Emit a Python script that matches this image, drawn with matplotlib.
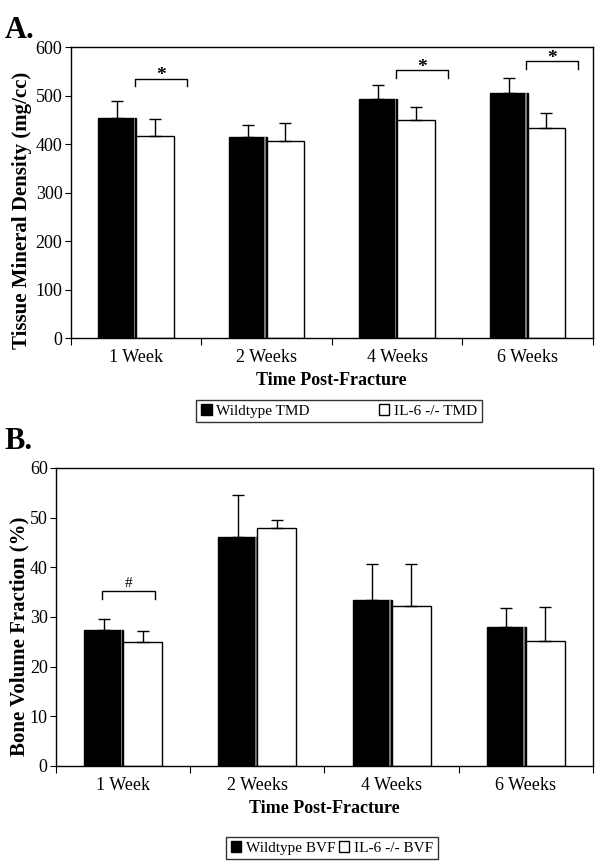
import numpy as np
import matplotlib.pyplot as plt
from matplotlib.patches import Patch

plt.rcParams['font.family'] = ['Liberation Serif', 'DejaVu Serif']

weeks = ['1 Week', '2 Weeks', '4 Weeks', '6 Weeks']

# Panel A: tissue mineral density (mg/cc)
tmd_wt = [453, 415, 493, 505]
tmd_wt_err = [35, 25, 28, 31]
tmd_ko = [417, 406, 450, 433]
tmd_ko_err = [35, 38, 27, 32]
tmd_sig = [0, 2, 3]          # groups marked with *
tmd_sig_y = [535, 553, 571]

# Panel B: bone volume fraction (%)
bvf_wt = [27.4, 46.2, 33.5, 28.0]
bvf_wt_err = [2.1, 8.3, 7.2, 3.8]
bvf_ko = [24.9, 47.9, 32.2, 25.1]
bvf_ko_err = [2.2, 1.7, 8.4, 7.0]
bvf_sig = [0]                # groups marked with #
bvf_sig_y = [35.3]

x = np.arange(len(weeks))
w = 0.29

fig = plt.figure(figsize=(6, 8.65), dpi=100)
axA = fig.add_axes([0.118, 0.6092, 0.870, 0.3364])
axB = fig.add_axes([0.0933, 0.1145, 0.895, 0.3445])


def draw(ax, wt, wt_err, ko, ko_err, ymax, yticks, ylabel, label_x, label_y):
    ax.bar(x - w / 2, wt, w, color='black', edgecolor='black', lw=1,
           yerr=[np.zeros(len(wt)), wt_err], capsize=4,
           error_kw=dict(ecolor='black', elinewidth=1, capthick=1))
    # thin grey shading on the right edge of the black bars
    ax.bar(x - 0.012, wt, 0.012, color='#777777', lw=0)
    ax.bar(x + w / 2, ko, w, color='white', edgecolor='black', lw=1,
           yerr=[np.zeros(len(ko)), ko_err], capsize=4,
           error_kw=dict(ecolor='black', elinewidth=1, capthick=1))
    ax.set_xlim(-0.5, len(weeks) - 0.5)
    ax.set_ylim(0, ymax)
    ax.set_yticks(yticks)
    ax.set_xticks(np.arange(len(weeks) + 1) - 0.5)
    ax.set_xticklabels([])
    ax.set_xticks(x, minor=True)
    ax.set_xticklabels(weeks, minor=True, fontsize=13)
    ax.tick_params(axis='x', which='minor', length=0, pad=8)
    ax.tick_params(axis='x', which='major', length=5, direction='out')
    ax.tick_params(axis='y', labelsize=13, length=4, direction='out', pad=2)
    ax.set_ylabel(ylabel, fontsize=15, fontweight='bold')
    ax.yaxis.set_label_coords(label_x, label_y)
    ax.set_xlabel('Time Post-Fracture', fontsize=13, fontweight='bold', labelpad=4)
    for s in ax.spines.values():
        s.set_linewidth(1)


draw(axA, tmd_wt, tmd_wt_err, tmd_ko, tmd_ko_err, 600, range(0, 601, 100),
     'Tissue Mineral Density (mg/cc)', -0.075, 0.44)
draw(axB, bvf_wt, bvf_wt_err, bvf_ko, bvf_ko_err, 60, range(0, 61, 10),
     'Bone Volume Fraction (%)', -0.05, 0.436)

# significance brackets
for g, yb in zip(tmd_sig, tmd_sig_y):
    x0, x1 = g - 0.01, g + 0.39
    axA.plot([x0, x0, x1, x1], [yb - 16, yb, yb, yb - 16], color='black', lw=1)
    axA.text((x0 + x1) / 2, yb - 12, '*', ha='center', va='bottom', fontsize=14, fontweight='bold')
for g, yb in zip(bvf_sig, bvf_sig_y):
    x0, x1 = g - 0.157, g + 0.234
    axB.plot([x0, x0, x1, x1], [yb - 1.7, yb, yb, yb - 1.7], color='black', lw=1)
    axB.text((x0 + x1) / 2, yb + 0.1, '#', ha='center', va='bottom', fontsize=11)

fig.text(0.008, 0.965, 'A.', fontsize=22, fontweight='bold', va='center')
fig.text(0.008, 0.49, 'B.', fontsize=22, fontweight='bold', va='center')

# legends
hA = [Patch(facecolor='black', edgecolor='black'), Patch(facecolor='white', edgecolor='black')]
legA = fig.legend(hA, ['Wildtype TMD', 'IL-6 -/- TMD'], loc='center', ncol=2,
                  bbox_to_anchor=(0.565, 1 - 411 / 865), fontsize=11, frameon=True,
                  fancybox=False, edgecolor='black', handlelength=0.7, handleheight=0.7,
                  handletextpad=0.3, columnspacing=4.5, borderpad=0.3)
legA.get_frame().set_linewidth(1)
legB = fig.legend(hA, ['Wildtype BVF', 'IL-6 -/- BVF'], loc='center', ncol=2,
                  bbox_to_anchor=(0.553, 1 - 848 / 865), fontsize=11, frameon=True,
                  fancybox=False, edgecolor='black', handlelength=0.7, handleheight=0.7,
                  handletextpad=0.3, columnspacing=0.2, borderpad=0.3)
legB.get_frame().set_linewidth(1)

fig.savefig('out.png', dpi=100)
